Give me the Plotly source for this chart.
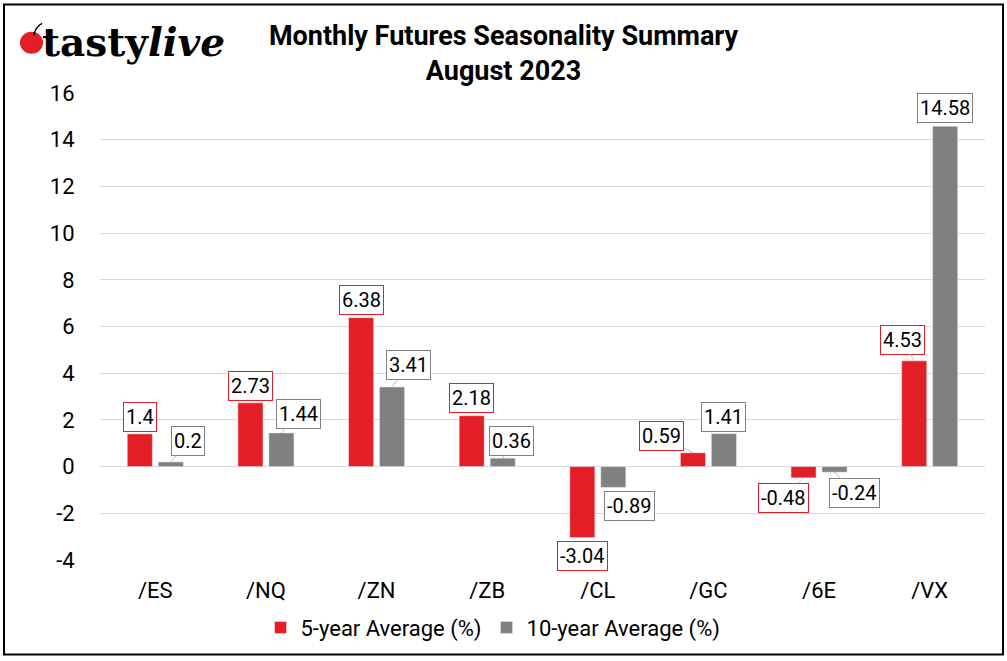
import plotly.graph_objects as go

# ---- data ----
categories = ["/ES", "/NQ", "/ZN", "/ZB", "/CL", "/GC", "/6E", "/VX"]
avg_5y = [1.4, 2.73, 6.38, 2.18, -3.04, 0.59, -0.48, 4.53]
avg_10y = [0.2, 1.44, 3.41, 0.36, -0.89, 1.41, -0.24, 14.58]
series_names = ["5-year Average (%)", "10-year Average (%)"]
y_ticks = [-4, -2, 0, 2, 4, 6, 8, 10, 12, 14, 16]
y_tick_text = [str(t) for t in y_ticks]
title_lines = ["Monthly Futures Seasonality Summary", "August 2023"]

# ---- style ----
RED = "#E31E26"
GRAY = "#808080"
GRID = "#D9D9D9"
FONT = "Roboto"
W, H = 1007, 661
L, R, T, B = 100, 22, 93, 99
PW, PH = W - L - R, H - T - B

def px(x):
    return (x - L) / PW

def py(y):
    return (H - B - y) / PH

# label box offsets (pixels from bar end) and whether a leader line shows
off_5y = [(0, -17), (0, -17), (0, -18), (0, -18), (0, 18), (-31, -17), (-20, 20), (-12, -21)]
lead_5y = [False, False, False, False, False, True, True, True]
off_10y = [(17, -21), (17, -19), (16, -22), (9, -17), (16, 19), (0, -17), (20, 21), (0, -18)]
lead_10y = [True, True, True, True, False, False, True, False]
BAR_SHIFT = 15.5

fig = go.Figure()
fig.add_trace(go.Bar(x=categories, y=avg_5y, name=series_names[0], marker_color=RED))
fig.add_trace(go.Bar(x=categories, y=avg_10y, name=series_names[1], marker_color=GRAY))

annotations = []
for vals, offs, leads, col, shift in [
    (avg_5y, off_5y, lead_5y, RED, -BAR_SHIFT),
    (avg_10y, off_10y, lead_10y, GRAY, BAR_SHIFT),
]:
    for c, v, (dx, dy), ld in zip(categories, vals, offs, leads):
        annotations.append(dict(
            x=c, y=v, xref="x", yref="y", xshift=shift,
            text=str(v), showarrow=True, arrowhead=0, arrowwidth=1,
            arrowcolor="#BFBFBF" if ld else "rgba(0,0,0,0)",
            ax=dx, ay=dy, standoff=0,
            font=dict(family=FONT, size=20, color="#000000"),
            bordercolor=col, borderwidth=1, borderpad=2, bgcolor="#FFFFFF",
        ))

# logo text
annotations.append(dict(
    xref="paper", yref="paper", x=px(40), y=py(42), xanchor="left", yanchor="middle",
    text="<b>tasty</b><b><i>live</i></b>", showarrow=False,
    font=dict(family="DejaVu Serif", size=39, color="#000000"),
))

shapes = [
    # outer border
    dict(type="rect", xref="paper", yref="paper",
         x0=px(4), x1=px(1003), y0=py(657), y1=py(4),
         line=dict(color="#000000", width=2), fillcolor="rgba(0,0,0,0)"),
    # cherry
    dict(type="circle", xref="paper", yref="paper",
         x0=px(20), x1=px(43), y0=py(53.5), y1=py(31.5),
         line=dict(color=RED, width=0), fillcolor=RED),
    dict(type="path", xref="paper", yref="paper",
         path=f"M {px(34)},{py(35)} Q {px(35)},{py(27)} {px(42)},{py(23)}",
         line=dict(color="#000000", width=1.5)),
]

fig.update_layout(
    width=W, height=H,
    margin=dict(l=L, r=R, t=T, b=B),
    paper_bgcolor="#FFFFFF", plot_bgcolor="#FFFFFF",
    font=dict(family=FONT, color="#000000"),
    barmode="group", bargap=0.44, bargroupgap=0.19,
    title=dict(text="<b>" + "<br>".join(title_lines) + "</b>",
               xref="container", yref="container", x=0.5, xanchor="center",
               y=1 - 45 / H, yanchor="middle",
               font=dict(family=FONT, size=27, color="#000000")),
    xaxis=dict(type="category", showgrid=False, showline=False, zeroline=False,
               ticks="outside", ticklen=11, tickcolor="rgba(0,0,0,0)",
               tickfont=dict(size=22, color="#000000")),
    yaxis=dict(range=[-4, 16], tickvals=y_ticks, ticktext=y_tick_text,
               showgrid=True, gridcolor=GRID,
               gridwidth=1, zeroline=True, zerolinecolor=GRID, zerolinewidth=1,
               showline=False, ticks="outside", ticklen=20, tickcolor="rgba(0,0,0,0)",
               tickfont=dict(size=22, color="#000000")),
    legend=dict(orientation="h", x=px(493), xanchor="center", y=py(630), yanchor="middle",
                font=dict(size=22, color="#000000"), itemclick=False),
    showlegend=True,
    annotations=annotations,
    shapes=shapes,
)

fig.write_html("out.html", config={"displayModeBar": False},
               post_script="document.body.style.margin='0';document.body.style.overflow='hidden';")
